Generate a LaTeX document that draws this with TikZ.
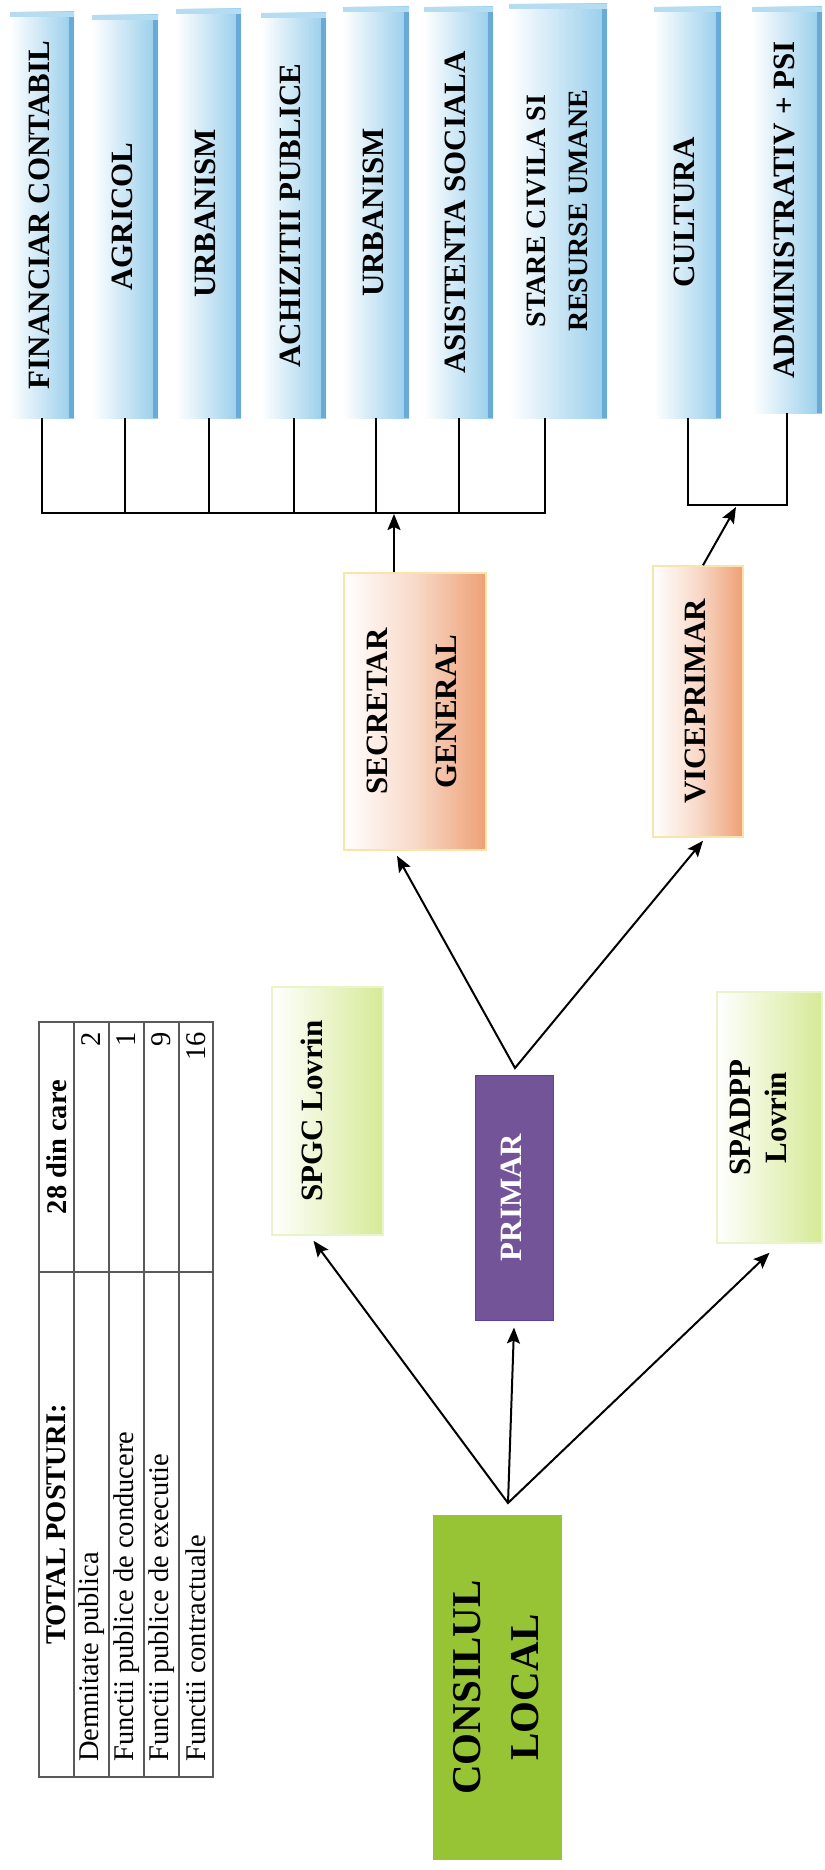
\documentclass[tikz,border=0pt]{standalone}
\usepackage{fontspec}
\setmainfont{Liberation Serif}
\usepackage{graphicx}
\usetikzlibrary{arrows.meta}
\definecolor{deptblue}{RGB}{150,205,235}
\definecolor{deptside}{RGB}{105,170,215}
\definecolor{headorange}{RGB}{238,160,118}
\definecolor{headline}{RGB}{250,228,170}
\definecolor{svcgreen}{RGB}{214,234,150}
\definecolor{primarpurple}{RGB}{116,84,152}
\definecolor{councilgreen}{RGB}{150,196,52}
\definecolor{tableline}{RGB}{90,90,90}
\newcommand{\uptext}[1]{\rotatebox{90}{\begin{tabular}{@{}c@{}}#1\end{tabular}}}
\tikzset{
    >={Stealth[length=16pt,width=13pt,inset=3pt]},
    link/.style={line width=2pt},
    dept/.style={inner sep=0pt, left color=white, right color=deptblue,
        font=\bfseries\fontsize{31}{36}\selectfont,
        path picture={
            \fill[deptside] ([xshift=-5pt]path picture bounding box.north east) rectangle (path picture bounding box.south east);
            \fill[deptblue!70] (path picture bounding box.north west) rectangle ([yshift=-5pt]path picture bounding box.north east);}},
    head/.style={inner sep=0pt, draw=headline, line width=1.5pt,
        left color=white, right color=headorange, middle color=headorange!40,
        font=\bfseries\fontsize{31}{36}\selectfont},
    service/.style={inner sep=0pt, draw=svcgreen!50, line width=1.5pt,
        left color=white, right color=svcgreen,
        font=\bfseries\fontsize{31}{36}\selectfont},
    cell/.style={rotate=90, inner sep=2pt, font=\fontsize{28.5}{32}\selectfont},
    cellhead/.style={rotate=90, inner sep=2pt, font=\bfseries\fontsize{28.5}{32}\selectfont},
}

\begin{document}
\begin{tikzpicture}[x=1pt, y=-1pt]
    \useasboundingbox (0,0) rectangle (824,1870);

    % compartimente
    \node[dept, minimum width=64pt, minimum height=406pt] (fin) at (42,215) {\uptext{FINANCIAR CONTABIL}};
    \node[dept, minimum width=66pt, minimum height=403pt] (agr) at (125,216.5) {\uptext{AGRICOL}};
    \node[dept, minimum width=65pt, minimum height=409pt] (urba) at (208.5,213.5) {\uptext{URBANISM}};
    \node[dept, minimum width=65pt, minimum height=405pt] (ach) at (293.5,215.5) {\uptext{ACHIZITII PUBLICE}};
    \node[dept, minimum width=66pt, minimum height=411pt] (urbb) at (376,212.5) {\uptext{URBANISM}};
    \node[dept, minimum width=69pt, minimum height=411pt] (asi) at (458.5,212.5) {\uptext{ASISTENTA SOCIALA}};
    \node[dept, minimum width=98pt, minimum height=414pt, font=\bfseries\fontsize{28}{42}\selectfont] (sta) at (558,211) {\uptext{STARE CIVILA SI\\RESURSE UMANE}};
    \node[dept, minimum width=67pt, minimum height=411pt] (cul) at (687.5,212.5) {\uptext{CULTURA}};
    \node[dept, minimum width=70pt, minimum height=406pt] (adm) at (787,210) {\uptext{ADMINISTRATIV + PSI}};

    \node[head, minimum width=142pt, minimum height=277pt] (sec) at (415,711.5) {\uptext{SECRETAR\\[33pt]GENERAL}};
    \node[head, minimum width=90pt, minimum height=271pt] (vice) at (698,701.5) {\uptext{VICEPRIMAR}};

    \node[service, minimum width=111pt, minimum height=248pt] (spgc) at (327.5,1111) {\uptext{SPGC Lovrin}\hspace*{24pt}};
    \node[service, minimum width=105pt, minimum height=251pt] (spadpp) at (769.5,1117.5) {\uptext{SPADPP\\Lovrin}\hspace*{16pt}};
    \node[inner sep=0pt, fill=primarpurple, draw=primarpurple!75!blue, line width=1pt, text=white,
        font=\bfseries\fontsize{31}{36}\selectfont, minimum width=78pt, minimum height=245pt] (primar) at (514,1197.5) {\uptext{PRIMAR}};
    \node[inner sep=0pt, fill=councilgreen, font=\bfseries\fontsize{41}{58}\selectfont,
        minimum width=129pt, minimum height=345pt] (consiliu) at (497.5,1687.5) {\uptext{CONSILUL\\LOCAL}};

    % legaturi
    \coordinate (bus) at (0,513);
    \coordinate (vbus) at (0,505);
    \coordinate (sjoin) at (394,514);
    \coordinate (vjoin) at (736,507);
    \coordinate (papex) at (515,1068);
    \coordinate (capex) at (508,1503);

    \draw[link] (fin.south) |- ([xshift=-13pt]sta.south |- bus) -- ([xshift=-13pt]sta.south);
    \draw[link] (agr.south) -- (agr.south |- bus);
    \draw[link] (urba.south) -- (urba.south |- bus);
    \draw[link] (ach.south) -- (ach.south |- bus);
    \draw[link] (urbb.south) -- (urbb.south |- bus);
    \draw[link] (asi.south) -- (asi.south |- bus);
    \draw[link] (cul.south) |- (adm.south |- vbus) -- (adm.south);

    \draw[link, ->] ([xshift=-21pt]sec.north) -- (sjoin);
    \draw[link, ->] ([xshift=5pt]vice.north) -- (vjoin);
    \draw[link, <->] ([xshift=-18pt, yshift=-5pt]sec.south) -- (papex) -- ([xshift=5pt, yshift=-3pt]vice.south);
    \draw[link, <->] ([xshift=-14pt, yshift=-5pt]spgc.south) -- (capex) -- ([yshift=-9pt]spadpp.south);
    \draw[link, ->] (capex) -- ([yshift=-7pt]primar.south);

    % tabel posturi
    \draw[tableline, line width=1.3pt] (39,1022) rectangle (213,1777);
    \draw[tableline, line width=1.3pt] (74,1022) -- (74,1777);
    \draw[tableline, line width=1.3pt] (109,1022) -- (109,1777);
    \draw[tableline, line width=1.3pt] (144,1022) -- (144,1777);
    \draw[tableline, line width=1.3pt] (179,1022) -- (179,1777);
    \draw[tableline, line width=1.3pt] (39,1272) -- (213,1272);

    \node[cellhead] (tot) at (56.5,1524.5) {TOTAL POSTURI:};
    \node[cellhead] (din) at (56.5,1147) {28 din care};
    \node[cell, anchor=west] (dem) at (91.5,1764) {Demnitate publica};
    \node[cell, anchor=east] (ndem) at (91.5,1030) {2};
    \node[cell, anchor=west] (cond) at (126.5,1764) {Functii publice de conducere};
    \node[cell, anchor=east] (ncond) at (126.5,1030) {1};
    \node[cell, anchor=west] (exec) at (161.5,1764) {Functii publice de executie};
    \node[cell, anchor=east] (nexec) at (161.5,1030) {9};
    \node[cell, anchor=west] (contr) at (196,1764) {Functii contractuale};
    \node[cell, anchor=east] (ncontr) at (196,1030) {16};
\end{tikzpicture}
\end{document}
